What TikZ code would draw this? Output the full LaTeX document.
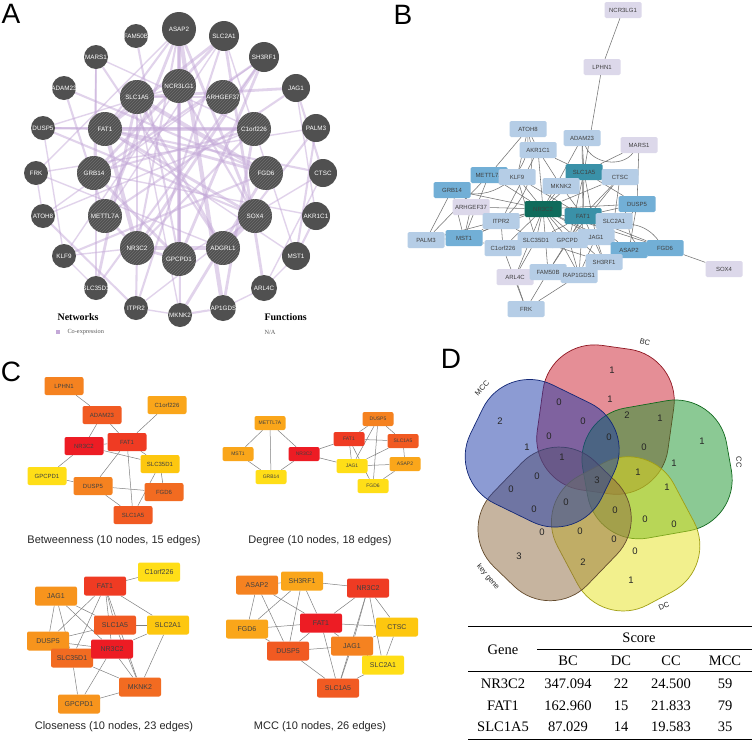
\documentclass[tikz,border=0pt]{standalone}
\usepackage{fontspec}
\setmainfont{Liberation Serif}
\setsansfont{Liberation Sans}
\usetikzlibrary{patterns,backgrounds}

% panel A
\definecolor{anode}{HTML}{505050}
\definecolor{ahatchc}{HTML}{707070}
\definecolor{aedgec}{HTML}{C4A9D8}
% panel B
\definecolor{blav}{HTML}{DCD8EA}
\definecolor{blight}{HTML}{B5CDE6}
\definecolor{bmid}{HTML}{72AFD6}
\definecolor{bteal}{HTML}{3A91A8}
\definecolor{bdark}{HTML}{0F6B5B}
% panel C
\definecolor{cR}{HTML}{ED1C24}
\definecolor{cRa}{HTML}{EF3B23}
\definecolor{cRb}{HTML}{F15A22}
\definecolor{cRc}{HTML}{F26B21}
\definecolor{cO}{HTML}{F58220}
\definecolor{cOa}{HTML}{F7941D}
\definecolor{cOb}{HTML}{FAA61A}
\definecolor{cY}{HTML}{FDC70F}
\definecolor{cYa}{HTML}{FFDE17}
% panel D
\definecolor{vBC}{HTML}{CC1F2F}
\definecolor{vMCC}{HTML}{1A38A8}
\definecolor{vCC}{HTML}{18952A}
\definecolor{vDC}{HTML}{E6E31C}
\definecolor{vKG}{HTML}{8F6B40}

\begin{document}
\begin{tikzpicture}[x=1pt, y=-1pt,
    letter/.style={font=\sffamily\fontsize{28}{30}\selectfont},
    acirc/.style={circle, fill=anode, inner sep=0pt},
    ahatch/.style={postaction={pattern=north east lines, pattern color=ahatchc}},
    alabel/.style={text=white, inner sep=0pt, font=\sffamily\fontsize{6.3}{7}\selectfont},
    aedge/.style={draw=aedgec, draw opacity=0.5},
    bbox/.style={rectangle, rounded corners=1.5pt, minimum width=37pt, minimum height=16pt,
      inner sep=1pt, text=black!75, font=\sffamily\fontsize{6}{7}\selectfont},
    bedge/.style={draw=black!55, line width=0.55pt},
    cbox/.style={rectangle, rounded corners=2pt, inner sep=1pt, text=black!75},
    cb/.style={cbox, minimum width=39pt, minimum height=18pt, font=\sffamily\fontsize{6}{7}\selectfont},
    cd/.style={cbox, minimum width=31pt, minimum height=14pt, font=\sffamily\fontsize{5}{6}\selectfont},
    cc/.style={cbox, minimum width=42pt, minimum height=19pt, font=\sffamily\fontsize{7}{8}\selectfont},
    cedge/.style={draw=black!50, line width=0.5pt},
    ctitle/.style={font=\sffamily\fontsize{11}{13}\selectfont, text=black!85},
    vset/.style={line width=0.7pt, fill opacity=0.5, rounded corners=52pt},
    vnum/.style={font=\sffamily\fontsize{9.5}{11}\selectfont, text=black!85},
    vlab/.style={font=\sffamily\fontsize{7.5}{9}\selectfont, text=black!85},
    tcell/.style={font=\fontsize{14.5}{16}\selectfont, inner sep=1pt}
  ]
  \useasboundingbox (0,0) rectangle (753,742);
  \begin{scope}[on background layer]
    \fill[white] (0,0) rectangle (753,742);
  \end{scope}

  % panel A: co-expression network
  \node[letter] (labA) at (11,14) {A};
  \foreach \g/\x/\y/\rad in {ASAP2/179/29/17, FAM50B/136/36/12, SLC2A1/224/36/15, MARS1/96/57/12,
      SH3RF1/264/57/15, ADAM23/64/88/12, JAG1/296/88/14, DUSP5/43/128/12, PALM3/316/128/14,
      FRK/36/173/12, CTSC/323/173/14, ATOH8/43/216/12, AKR1C1/316/216/14, KLF9/64/256/12,
      MST1/296/256/14, SLC35D1/96/288/12, ARL4C/264/288/13, ITPR2/136/308/12,
      MKNK2/180/315/12, RAP1GDS1/223/308/13}
    \node[acirc, minimum size={2*\rad}, label={[alabel]center:\g}] (a\g) at (\x,\y) {};
  \foreach \g/\x/\y in {NCR3LG1/179/86, SLC1A5/137/97, ARHGEF37/223/97, FAT1/105/129,
      C1orf226/254/129, GRB14/94/173, FGD6/266/173, METTL7A/105/216, SOX4/255/216,
      NR3C2/137/248, GPCPD1/179/259, ADGRL1/223/248}
    \node[acirc, ahatch, minimum size=34, label={[alabel]center:\g}] (a\g) at (\x,\y) {};
  \begin{scope}[on background layer]
    \foreach \p/\q/\w in {NR3C2/FAT1/3, NR3C2/SLC1A5/2, NR3C2/GPCPD1/2, NR3C2/ADGRL1/3,
        NR3C2/METTL7A/2, NR3C2/C1orf226/1.5, NR3C2/SH3RF1/2, NR3C2/ASAP2/1.5, NR3C2/KLF9/1,
        NR3C2/ITPR2/1.5, FAT1/SLC1A5/2, FAT1/C1orf226/3, FAT1/FGD6/2, FAT1/ASAP2/1.5,
        FAT1/SLC2A1/2, FAT1/CTSC/1.5, FAT1/SOX4/2, FAT1/MST1/1, FAT1/DUSP5/1.5,
        SLC1A5/ARHGEF37/1.5, SLC1A5/JAG1/2, SLC1A5/FGD6/3, SLC1A5/MKNK2/1, SLC1A5/SLC35D1/2,
        GPCPD1/SH3RF1/2, GPCPD1/ASAP2/3, GPCPD1/FAM50B/1.5, GPCPD1/CTSC/1, GPCPD1/GRB14/2,
        ADGRL1/SLC1A5/2, ADGRL1/MARS1/1.5, ADGRL1/FRK/1, ADGRL1/PALM3/1.5, ADGRL1/SOX4/3,
        METTL7A/ASAP2/2, METTL7A/JAG1/1.5, METTL7A/SLC2A1/1, METTL7A/ADAM23/1.5,
        GRB14/SLC2A1/2, GRB14/C1orf226/1.5, GRB14/AKR1C1/1, GRB14/SH3RF1/1.5,
        C1orf226/DUSP5/1.5, C1orf226/ATOH8/1, C1orf226/RAP1GDS1/2, C1orf226/MARS1/1,
        FGD6/ADAM23/1.5, FGD6/MKNK2/2, FGD6/KLF9/1.5, SOX4/ASAP2/2, SOX4/DUSP5/1.5,
        SOX4/ITPR2/1, ASAP2/RAP1GDS1/3, ASAP2/MKNK2/1.5, ASAP2/FRK/1, SLC2A1/ITPR2/1.5,
        SLC2A1/MST1/1, SLC2A1/ARL4C/2, SH3RF1/ATOH8/1, SH3RF1/SLC35D1/1.5, JAG1/CTSC/1.5,
        JAG1/AKR1C1/1, PALM3/MST1/1.5, PALM3/FRK/1, CTSC/ARL4C/1, AKR1C1/MST1/1.5,
        MARS1/GRB14/1, MARS1/SLC35D1/1, DUSP5/KLF9/1, FRK/ATOH8/1, ATOH8/ITPR2/1.5,
        KLF9/SLC35D1/1, ITPR2/MKNK2/1, MKNK2/RAP1GDS1/1.5, RAP1GDS1/ARL4C/1, ARL4C/MST1/1,
        NCR3LG1/GPCPD1/2, NCR3LG1/KLF9/1, NCR3LG1/SOX4/1.5, NCR3LG1/DUSP5/1}
      \draw[aedge, line width={1.4*\w}] (a\p) -- (a\q);
  \end{scope}
  % legend
  \node[font=\bfseries\fontsize{10}{12}\selectfont, anchor=west] (netw) at (54,317) {Networks};
  \fill[aedgec] (55.5,330) rectangle (59.5,334);
  \node[font=\fontsize{6.3}{7}\selectfont, text=black!65, anchor=west] (coexp) at (64,332) {Co-expression};
  \node[font=\bfseries\fontsize{10}{12}\selectfont, anchor=west] (func) at (261,317) {Functions};
  \node[font=\fontsize{6.3}{7}\selectfont, text=black!65, anchor=west] (na) at (261,332) {N/A};

  % panel B: string network
  \node[letter] (labB) at (403,15) {B};
  \foreach \g/\x/\y/\col in {NCR3LG1/623/10/blav, LPHN1/602/67/blav, ATOH8/528/129/blight,
      ADAM23/582/138/blight, MARS1/639/145/blav, AKR1C1/538/150/blight, METTL7A/489/175/bmid,
      KLF9/517/177/blight, SLC1A5/584/172/bteal, CTSC/620/177/blight, MKNK2/561/186/blight,
      GRB14/452/190/bmid, ARHGEF37/471/207/blav, DUSP5/637/204/bmid, NR3C2/543/209/bdark,
      FAT1/583/216/bteal, SLC2A1/614/221/blight, ITPR2/501/221/blight, PALM3/426/240/blight,
      MST1/464/238/bmid, C1orf226/503/248/blight, SLC35D1/536/240/blight, GPCPD1/569/240/blight,
      JAG1/596/237/blight, ASAP2/629/250/bmid, FGD6/665/248/bmid, SH3RF1/604/262/blight,
      SOX4/724/269/blav, ARL4C/515/277/blav, FAM50B/548/272/blight, RAP1GDS1/579/275/blight,
      FRK/526/309/blight}
    \node[bbox, fill=\col] (b\g) at (\x,\y) {\g};
  \begin{scope}[on background layer]
    \foreach \p/\q in {NCR3LG1/LPHN1, LPHN1/SLC1A5, NR3C2/GRB14, NR3C2/ARHGEF37, NR3C2/METTL7A,
        NR3C2/KLF9, NR3C2/AKR1C1, NR3C2/MKNK2, NR3C2/SLC1A5, NR3C2/ITPR2, NR3C2/MST1,
        NR3C2/PALM3, NR3C2/SLC35D1, NR3C2/GPCPD1, NR3C2/JAG1, NR3C2/C1orf226, NR3C2/ASAP2,
        NR3C2/FGD6, NR3C2/SH3RF1, NR3C2/FAM50B, NR3C2/RAP1GDS1, NR3C2/ARL4C, NR3C2/ADAM23,
        NR3C2/DUSP5, NR3C2/CTSC, FAT1/SLC1A5, FAT1/CTSC, FAT1/DUSP5, FAT1/SLC2A1, FAT1/GPCPD1,
        FAT1/ASAP2, FAT1/FGD6, FAT1/SH3RF1, FAT1/MKNK2, FAT1/KLF9, FAT1/SLC35D1, FAT1/RAP1GDS1,
        FAT1/ADAM23, FAT1/FAM50B, SLC1A5/MARS1, SLC1A5/ADAM23, SLC1A5/AKR1C1, SLC1A5/MKNK2,
        SLC1A5/JAG1, SLC1A5/DUSP5, SLC1A5/GPCPD1, ATOH8/AKR1C1, ATOH8/KLF9, ATOH8/METTL7A,
        AKR1C1/MKNK2, AKR1C1/ITPR2, GRB14/PALM3, GRB14/MST1, GRB14/ITPR2, METTL7A/MST1,
        METTL7A/PALM3, ARHGEF37/MST1, MST1/PALM3, MST1/ITPR2, MST1/C1orf226, ITPR2/SLC35D1,
        ITPR2/C1orf226, C1orf226/FRK, ARL4C/FRK, FAM50B/FRK, RAP1GDS1/FRK, ARL4C/SLC35D1,
        FAM50B/GPCPD1, RAP1GDS1/GPCPD1, RAP1GDS1/JAG1, JAG1/ASAP2, JAG1/SH3RF1, ASAP2/FGD6,
        FGD6/SOX4, DUSP5/ASAP2, DUSP5/SLC2A1, MARS1/DUSP5, CTSC/SLC2A1, CTSC/GPCPD1,
        SH3RF1/SLC35D1, KLF9/SLC35D1}
      \draw[bedge] (b\p) -- (b\q);
    \foreach \p/\q/\b in {ATOH8/GRB14/50, ADAM23/MARS1/-60, DUSP5/FGD6/-60, JAG1/FGD6/40,
        ATOH8/MST1/40}
      \draw[bedge] (b\p) to[bend left=\b] (b\q);
  \end{scope}

  % panel C: hub genes by four methods
  \node[letter] (labC) at (11,372) {C};
  \foreach \g/\x/\y/\col in {LPHN1/64/386/cO, ADAM23/102/415/cRb, C1orf226/167/405/cOb,
      NR3C2/84/446/cR, FAT1/127/442/cRa, SLC35D1/160/464/cY, GPCPD1/47/476/cYa,
      DUSP5/93/486/cO, FGD6/164/492/cRc, SLC1A5/133/515/cRb}
    \node[cb, fill=\col] (cb\g) at (\x,\y) {\g};
  \foreach \g/\x/\y/\col in {METTL7A/270/423/cOb, MST1/238/454/cOb, GRB14/271/477/cYa,
      NR3C2/304/454/cR, FAT1/349/439/cRa, JAG1/352/466/cYa, DUSP5/378/419/cO,
      FGD6/373/486/cYa, SLC1A5/403/441/cRb, ASAP2/405/464/cOb}
    \node[cd, fill=\col] (cd\g) at (\x,\y) {\g};
  \foreach \g/\x/\y/\col in {C1orf226/159/572/cYa, FAT1/105/586/cRa, JAG1/56/596/cOa,
      SLC1A5/115/625/cRb, SLC2A1/168/625/cY, DUSP5/48/641/cOa, SLC35D1/72/658/cRc,
      NR3C2/112/649/cR, MKNK2/140/687/cRc, GPCPD1/79/704/cOa}
    \node[cc, fill=\col] (cc\g) at (\x,\y) {\g};
  \foreach \g/\x/\y/\col in {ASAP2/257/585/cO, SH3RF1/302/581/cOb, NR3C2/368/588/cRa,
      FGD6/247/629/cOb, FAT1/321/623/cR, DUSP5/288/651/cRb, JAG1/352/646/cO,
      SLC1A5/338/688/cRb, CTSC/397/627/cY, SLC2A1/383/665/cYa}
    \node[cc, fill=\col] (cm\g) at (\x,\y) {\g};
  \begin{scope}[on background layer]
    \foreach \p/\q in {LPHN1/ADAM23, ADAM23/NR3C2, ADAM23/FAT1, C1orf226/FAT1, NR3C2/FAT1,
        NR3C2/SLC35D1, NR3C2/GPCPD1, FAT1/SLC35D1, FAT1/DUSP5, FAT1/SLC1A5, GPCPD1/DUSP5,
        DUSP5/FGD6, DUSP5/SLC1A5, SLC35D1/FGD6, SLC35D1/SLC1A5}
      \draw[cedge] (cb\p) -- (cb\q);
    \foreach \p/\q in {METTL7A/MST1, METTL7A/GRB14, METTL7A/NR3C2, MST1/GRB14, GRB14/NR3C2,
        NR3C2/FAT1, NR3C2/JAG1, FAT1/DUSP5, FAT1/JAG1, FAT1/SLC1A5, FAT1/FGD6, DUSP5/JAG1,
        DUSP5/FGD6, DUSP5/SLC1A5, JAG1/SLC1A5, JAG1/ASAP2, SLC1A5/ASAP2, FGD6/ASAP2}
      \draw[cedge] (cd\p) -- (cd\q);
    \foreach \p/\q in {FAT1/C1orf226, FAT1/SLC2A1, FAT1/SLC1A5, FAT1/NR3C2, FAT1/DUSP5,
        FAT1/SLC35D1, JAG1/DUSP5, JAG1/SLC1A5, JAG1/NR3C2, JAG1/SLC35D1, SLC1A5/SLC2A1,
        SLC1A5/DUSP5, SLC1A5/MKNK2, NR3C2/SLC2A1, NR3C2/SLC35D1, NR3C2/MKNK2, NR3C2/GPCPD1,
        SLC2A1/MKNK2, SLC35D1/MKNK2, SLC35D1/GPCPD1, GPCPD1/MKNK2, DUSP5/NR3C2, FAT1/MKNK2}
      \draw[cedge] (cc\p) -- (cc\q);
    \foreach \p/\q in {ASAP2/SH3RF1, ASAP2/FGD6, ASAP2/DUSP5, ASAP2/FAT1, SH3RF1/NR3C2,
        SH3RF1/FGD6, SH3RF1/DUSP5, SH3RF1/FAT1, NR3C2/FAT1, NR3C2/JAG1, NR3C2/SLC1A5,
        NR3C2/CTSC, FGD6/FAT1, FGD6/DUSP5, FAT1/CTSC, FAT1/DUSP5, FAT1/JAG1, FAT1/SLC1A5,
        DUSP5/JAG1, DUSP5/SLC1A5, JAG1/SLC1A5, JAG1/CTSC, CTSC/SLC2A1, SLC2A1/SLC1A5,
        SLC2A1/JAG1, NR3C2/SLC2A1}
      \draw[cedge] (cm\p) -- (cm\q);
  \end{scope}
  \node[ctitle] (tBet) at (114,541) {Betweenness (10 nodes, 15 edges)};
  \node[ctitle] (tDeg) at (320,541) {Degree (10 nodes, 18 edges)};
  \node[ctitle] (tClo) at (114,727) {Closeness (10 nodes, 23 edges)};
  \node[ctitle] (tMCC) at (320,727) {MCC (10 nodes, 26 edges)};

  % panel D: venn diagram
  \node[letter] (labD) at (451,359) {D};
  \foreach \a/\col in {82/vBC, 10/vCC, -62/vDC, -134/vKG, 154/vMCC}
  {
    \begin{scope}[shift={(597,480)}, rotate=\a]
      \draw[vset, fill=\col, draw=\col!70!black] (-12,-66) rectangle (134,66);
    \end{scope}
  }
  \foreach \n/\x/\y [count=\i] in {1/612/370, 0/559/402, 1/610/399, 2/627/415, 1/660/418,
      2/500/421, 0/583/421, 1/702/441, 0/549/436, 0/609/437, 1/527/447, 0/644/447,
      1/562/457, 1/674/463, 1/638/472, 0/537/476, 3/597/480, 1/667/487, 0/511/489,
      0/566/502, 0/534/509, 0/615/510, 0/645/519, 0/674/524, 0/542/532, 0/580/531,
      0/614/539, 0/635/551, 3/519/556, 2/583/562, 1/631/580}
    \node[vnum] (v\i) at (\x,\y) {\n};
  \node[vlab, rotate=-14] (lBC) at (645,342) {BC};
  \node[vlab, rotate=-90] (lCC) at (739,462) {CC};
  \node[vlab, rotate=22] (lDC) at (664,606) {DC};
  \node[vlab, rotate=-50] (lKG) at (488,577) {key gene};
  \node[vlab, rotate=48] (lMCC) at (482,388) {MCC};

  % table
  \draw[line width=1pt] (468,626) -- (752,626);
  \draw[line width=0.6pt] (537,649) -- (752,649);
  \draw[line width=0.6pt] (468,671) -- (752,671);
  \draw[line width=1pt] (468,739) -- (752,739);
  \node[tcell] (tGene) at (503,650) {Gene};
  \node[tcell] (tScore) at (639,638) {Score};
  \foreach \t/\x in {BC/568, DC/621, CC/671, MCC/725}
    \node[tcell] (h\t) at (\x,661) {\t};
  \foreach \g/\bc/\dc/\cc/\mcc/\y in {NR3C2/347.094/22/24.500/59/684,
      FAT1/162.960/15/21.833/79/706, SLC1A5/87.029/14/19.583/35/727}
  {
    \node[tcell] (r\g) at (503,\y) {\g};
    \node[tcell] (r\g bc) at (568,\y) {\bc};
    \node[tcell] (r\g dc) at (621,\y) {\dc};
    \node[tcell] (r\g cc) at (671,\y) {\cc};
    \node[tcell] (r\g mcc) at (725,\y) {\mcc};
  }
\end{tikzpicture}
\end{document}
